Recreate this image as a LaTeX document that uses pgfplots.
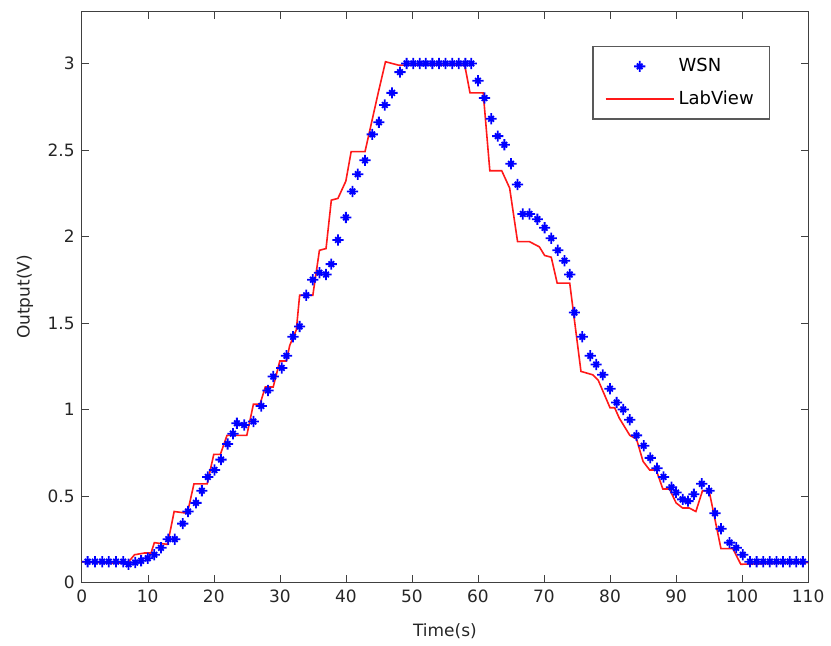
\documentclass[border=0pt]{standalone}
\usepackage{pgfplots}
\pgfplotsset{compat=1.18}
\usepackage{fontspec}
\setmainfont{DejaVu Sans}

% MATLAB-like '*' marker: long plus arms, shorter diagonals
\pgfdeclareplotmark{wsnstar}{%
  \pgfpathmoveto{\pgfqpoint{-\pgfplotmarksize}{0pt}}%
  \pgfpathlineto{\pgfqpoint{\pgfplotmarksize}{0pt}}%
  \pgfpathmoveto{\pgfqpoint{0pt}{-\pgfplotmarksize}}%
  \pgfpathlineto{\pgfqpoint{0pt}{\pgfplotmarksize}}%
  \pgfpathmoveto{\pgfqpoint{-0.5\pgfplotmarksize}{-0.5\pgfplotmarksize}}%
  \pgfpathlineto{\pgfqpoint{0.5\pgfplotmarksize}{0.5\pgfplotmarksize}}%
  \pgfpathmoveto{\pgfqpoint{-0.5\pgfplotmarksize}{0.5\pgfplotmarksize}}%
  \pgfpathlineto{\pgfqpoint{0.5\pgfplotmarksize}{-0.5\pgfplotmarksize}}%
  \pgfusepathqstroke}

\begin{document}
\begin{tikzpicture}
\begin{axis}[
  scale only axis,
  width=363.7pt,
  height=285.8pt,
  xmin=0, xmax=110,
  ymin=0, ymax=3.3,
  xtick={0,10,...,110},
  ytick={0,0.5,...,3},
  axis line style={black!75},
  tick style={black!75},
  major tick length=3.5pt,
  /pgf/number format/assume math mode=true,
  tick label style={font=\fontsize{8.5}{10}\selectfont, text=black!85},
  label style={font=\fontsize{8.5}{10}\selectfont, text=black!85},
  xlabel={Time(s)},
  ylabel={Output(V)},
  xlabel style={at={(axis description cs:0.5,-0.085)}, anchor=center},
  ylabel style={at={(axis description cs:-0.078,0.5)}, anchor=center},
  legend style={at={(axis description cs:0.948,0.9405)}, anchor=north east,
    draw=black!65, line width=0.7pt, font=\fontsize{9}{11}\selectfont,
    inner xsep=6pt, inner ysep=4pt, row sep=4pt},
  legend cell align=left,
  legend image code/.code={\draw[mark repeat=2,mark phase=2,#1]
    plot coordinates {(0cm,0cm) (0.6cm,0cm) (1.2cm,0cm)};},
]
\addplot[only marks, color=blue, mark=wsnstar, mark size=2.8pt, line width=0.9pt] coordinates {
  (0.9,0.12) (2,0.12) (3.1,0.12) (4.1,0.12) (5.2,0.12) (6.3,0.12) (7.1,0.105) (8.1,0.115)
  (9,0.125) (10,0.14) (11,0.16) (12,0.2) (13.1,0.25) (14.1,0.25) (15.3,0.34) (16.1,0.41)
  (17.3,0.46) (18.2,0.53) (19.1,0.61) (20.1,0.65) (21.1,0.71) (22.1,0.80) (22.9,0.86)
  (23.5,0.92) (24.6,0.91) (26,0.93) (27.2,1.02) (28.2,1.11) (29,1.19) (30.3,1.24) (31,1.31)
  (32,1.42) (33,1.48) (34,1.66) (35,1.75) (36,1.79) (37,1.78) (37.8,1.84) (38.8,1.98)
  (40,2.11) (41,2.26) (41.8,2.36) (42.9,2.44) (44,2.59) (45,2.66) (45.9,2.76) (47,2.83)
  (48.2,2.95) (49.2,3.0) (50.2,3.0) (51.2,3.0) (52.1,3.0) (53.1,3.0) (54.1,3.0) (55.1,3.0)
  (56.1,3.0) (57.1,3.0) (58.1,3.0) (59,3.0)
  (60,2.9) (61,2.8) (62,2.68) (63,2.58) (64,2.53) (65,2.42) (66,2.30) (66.8,2.13) (67.8,2.13)
  (69,2.10) (70.1,2.05) (71.1,1.99) (72.1,1.92) (73.1,1.86) (73.9,1.78) (74.6,1.56)
  (75.8,1.42) (77,1.31) (77.9,1.26) (78.9,1.20) (80,1.12) (81,1.04) (82,1.0) (83,0.94)
  (84,0.85) (85.1,0.79) (86.1,0.72) (87.1,0.66) (88.1,0.61) (89.3,0.55) (90,0.52) (91,0.48)
  (91.8,0.47) (92.7,0.51) (93.9,0.57) (95,0.53) (95.9,0.40) (96.8,0.31) (98.1,0.23)
  (99.1,0.20) (100.1,0.16) (101.2,0.12) (102.2,0.12) (103.2,0.12) (104.2,0.12) (105.2,0.12)
  (106.2,0.12) (107.2,0.12) (108.2,0.12) (109.2,0.12) (110.2,0.12)
};
\addlegendentry{WSN}
\addplot[color=red!90!white, line width=0.8pt, mark=none] coordinates {
  (0,0.12) (5,0.11) (7,0.115) (8,0.16) (9.5,0.17) (10.5,0.17) (11,0.23) (13,0.22) (14,0.41)
  (16,0.40) (17,0.57) (19,0.57) (20,0.74) (21,0.74) (22,0.85) (25,0.85) (26,1.03) (27,1.03)
  (27.8,1.13) (29,1.13) (30,1.28) (31,1.28) (31.5,1.37) (32.5,1.46) (33,1.66) (35,1.66)
  (36,1.92) (37,1.93) (37.8,2.21) (38.8,2.22) (40,2.32) (40.8,2.49) (42.9,2.49) (44.9,2.83)
  (46,3.01) (48,2.99) (58,2.99) (58.8,2.83) (60.8,2.83) (61.8,2.38) (63.6,2.38) (64.8,2.28)
  (66,1.97) (67.8,1.97) (69.3,1.94) (70.1,1.89) (71.1,1.88) (72,1.73) (73.9,1.73)
  (75.6,1.22) (77.4,1.20) (78.2,1.17) (80,1.01) (80.7,1.01) (81.4,0.95) (83,0.85) (84,0.83)
  (85,0.70) (86,0.65) (87,0.65) (88,0.54) (89,0.54) (90,0.46) (91,0.43) (92,0.43) (93,0.41)
  (94,0.53) (95,0.53) (96.8,0.195) (98.6,0.195) (99.8,0.105) (110,0.115)
};
\addlegendentry{LabView}
\end{axis}
\path ([shift={(-40.9pt,-31.5pt)}]current axis.south west)
  rectangle ([shift={(11pt,5.8pt)}]current axis.north east);
\end{tikzpicture}
\end{document}
